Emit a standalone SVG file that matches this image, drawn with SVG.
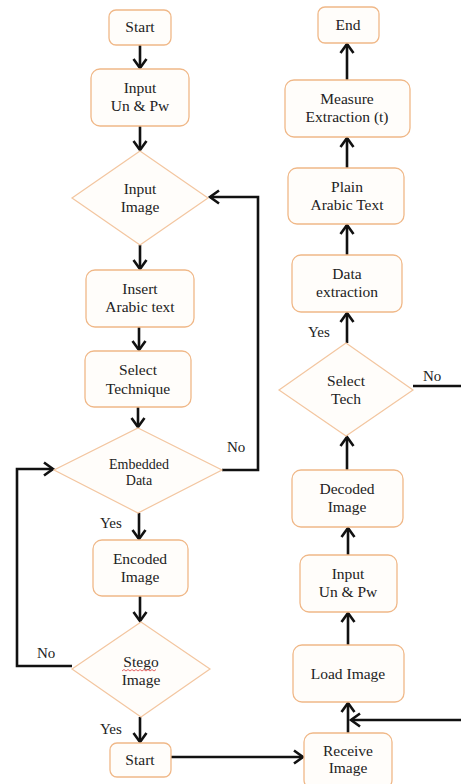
<svg xmlns="http://www.w3.org/2000/svg" width="461" height="784" viewBox="0 0 461 784">
<defs>
<style>
.box{fill:#fffdfa;stroke:#f0b888;stroke-width:1.3}
.dia{fill:#fffdfa;stroke:#f3c6a0;stroke-width:1.2}
.t{font-size:15.5px;fill:#222;text-anchor:middle}
.s{font-size:14px}
.lbl{font-size:15px;fill:#222}
.c{fill:none;stroke:#111;stroke-width:2.6}
</style>
<marker id="ah" markerUnits="userSpaceOnUse" markerWidth="20" markerHeight="20" refX="0" refY="0" viewBox="-12 -10 14 20" orient="auto">
<path d="M-9,-6.5 L0,0 L-9,6.5" fill="none" stroke="#111" stroke-width="2.6"/>
</marker>
</defs>
<rect width="461" height="784" fill="#fff"/>
<g id="connectors">
<path class="c" d="M140,45 V68" marker-end="url(#ah)"/>
<path class="c" d="M140,126 V150" marker-end="url(#ah)"/>
<path class="c" d="M140,245 V269" marker-end="url(#ah)"/>
<path class="c" d="M139,327 V350" marker-end="url(#ah)"/>
<path class="c" d="M138,407 V427" marker-end="url(#ah)"/>
<path class="c" d="M139,513 V539" marker-end="url(#ah)"/>
<path class="c" d="M140,596 V621" marker-end="url(#ah)"/>
<path class="c" d="M140,717 V742" marker-end="url(#ah)"/>
<path class="c" d="M222,470 H258 V197 H210" marker-end="url(#ah)"/>
<path class="c" d="M72,666 H17 V469 H53" marker-end="url(#ah)"/>
<path class="c" d="M171,757 H303" marker-end="url(#ah)"/>
<path class="c" d="M348,733 V703" marker-end="url(#ah)"/>
<path class="c" d="M461,720 H351" marker-end="url(#ah)"/>
<path class="c" d="M348,645 V613" marker-end="url(#ah)"/>
<path class="c" d="M348,555 V528" marker-end="url(#ah)"/>
<path class="c" d="M347,470 V437" marker-end="url(#ah)"/>
<path class="c" d="M347,343 V313" marker-end="url(#ah)"/>
<path class="c" d="M347,255 V225" marker-end="url(#ah)"/>
<path class="c" d="M347,168 V138" marker-end="url(#ah)"/>
<path class="c" d="M347,80 V44" marker-end="url(#ah)"/>
<path class="c" d="M413,386 H461"/>
</g>
<g font-family="Liberation Serif, DejaVu Serif, Times New Roman, serif">
<g id="labels">
<text class="lbl" x="227" y="452">No</text>
<text class="lbl" x="100" y="528">Yes</text>
<text class="lbl" x="37" y="658">No</text>
<text class="lbl" x="100" y="734">Yes</text>
<text class="lbl" x="308" y="337">Yes</text>
<text class="lbl" x="423" y="381">No</text>
</g>
<g id="start1"><rect class="box" x="109" y="10" width="62" height="35" rx="7"/><text class="t" x="140" y="32">Start</text></g>
<g id="input1"><rect class="box" x="91" y="69" width="98" height="57" rx="9"/><text class="t" x="140" y="93">Input</text><text class="t" x="140" y="111">Un &amp; Pw</text></g>
<g id="inputImage"><polygon class="dia" points="140,151 208,198 140,245 72,198"/><text class="t" x="140" y="194">Input</text><text class="t" x="140" y="212">Image</text></g>
<g id="insertText"><rect class="box" x="86" y="270" width="108" height="57" rx="9"/><text class="t" x="140" y="294">Insert</text><text class="t" x="140" y="312">Arabic text</text></g>
<g id="selectTechnique"><rect class="box" x="85" y="351" width="106" height="56" rx="9"/><text class="t" x="138" y="375">Select</text><text class="t" x="138" y="394">Technique</text></g>
<g id="embeddedData"><polygon class="dia" points="138,428 222,470 138,513 54,470"/><text class="t s" x="139" y="469">Embedded</text><text class="t s" x="139" y="485">Data</text></g>
<g id="encodedImage"><rect class="box" x="93" y="540" width="95" height="56" rx="9"/><text class="t" x="140" y="564">Encoded</text><text class="t" x="140" y="582">Image</text></g>
<g id="stegoImage"><polygon class="dia" points="141,622 210,669 141,717 72,669"/><text class="t" x="141" y="667">Stego</text><text class="t" x="141" y="685">Image</text><path d="M122,671 l2,-1.5 l2,1.5 l2,-1.5 l2,1.5 l2,-1.5 l2,1.5 l2,-1.5 l2,1.5 l2,-1.5 l2,1.5 l2,-1.5 l2,1.5 l2,-1.5 l2,1.5 l2,-1.5 l2,1.5 l2,-1.5" fill="none" stroke="#e04040" stroke-width="0.8"/></g>
<g id="start2"><rect class="box" x="110" y="743" width="61" height="34" rx="7"/><text class="t" x="140" y="765">Start</text></g>
<g id="end"><rect class="box" x="318" y="7" width="61" height="36" rx="7"/><text class="t" x="348" y="30">End</text></g>
<g id="measure"><rect class="box" x="285" y="80" width="125" height="57" rx="9"/><text class="t" x="347" y="104">Measure</text><text class="t" x="347" y="122">Extraction (t)</text></g>
<g id="plainText"><rect class="box" x="288" y="168" width="116" height="56" rx="9"/><text class="t" x="347" y="192">Plain</text><text class="t" x="347" y="210">Arabic Text</text></g>
<g id="dataExtraction"><rect class="box" x="292" y="255" width="110" height="57" rx="9"/><text class="t" x="347" y="279">Data</text><text class="t" x="347" y="297">extraction</text></g>
<g id="selectTech"><polygon class="dia" points="346,343 413,390 346,436 279,390"/><text class="t" x="346" y="386">Select</text><text class="t" x="346" y="404">Tech</text></g>
<g id="decodedImage"><rect class="box" x="292" y="470" width="111" height="57" rx="9"/><text class="t" x="347" y="494">Decoded</text><text class="t" x="347" y="512">Image</text></g>
<g id="input2"><rect class="box" x="300" y="555" width="97" height="57" rx="9"/><text class="t" x="348" y="579">Input</text><text class="t" x="348" y="597">Un &amp; Pw</text></g>
<g id="loadImage"><rect class="box" x="293" y="645" width="111" height="57" rx="9"/><text class="t" x="348" y="679">Load Image</text></g>
<g id="receiveImage"><rect class="box" x="304" y="733" width="88" height="56" rx="9"/><text class="t" x="348" y="756">Receive</text><text class="t" x="348" y="773">Image</text></g>
</g>
</svg>
